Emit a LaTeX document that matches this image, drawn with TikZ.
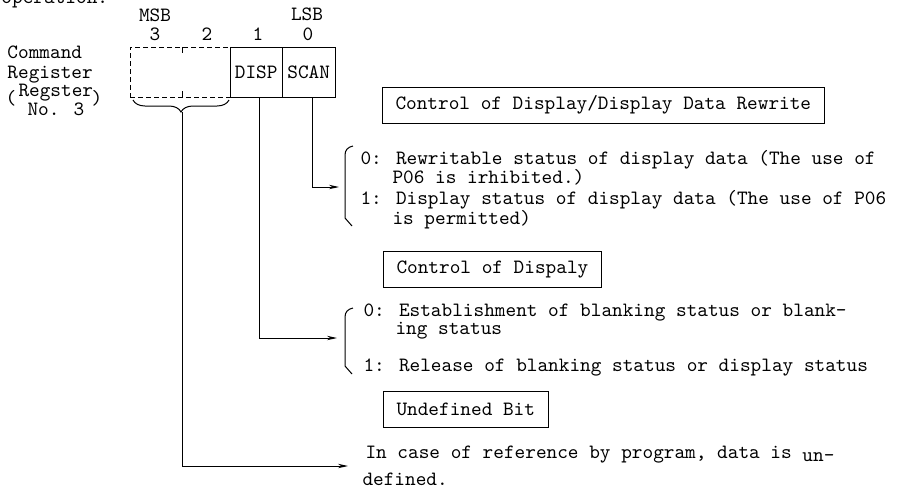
\documentclass[tikz,border=0pt]{standalone}
\usetikzlibrary{arrows.meta,decorations.pathreplacing}
\begin{document}
\begin{tikzpicture}[x=0.5pt,y=-0.5pt,line width=0.5pt]
\tikzset{
  tt/.style={font=\ttfamily\fontsize{10.15}{12}\selectfont},
  txt/.style={tt, inner sep=0pt, anchor=base west},
  ctr/.style={tt, inner sep=0pt, anchor=base},
  cell/.style={tt, draw, minimum width=26.25pt, minimum height=25pt, inner sep=0pt},
  hollowcell/.style={draw, dash pattern=on 2.5pt off 1.5pt, minimum width=50pt, minimum height=25pt, inner sep=0pt},
  titlebox/.style={tt, draw, anchor=west, minimum height=18pt, inner xsep=6.5pt, inner ysep=0pt},
  arr/.style={-{Stealth[length=5pt,width=2.2pt]}},
}
\useasboundingbox (0,0) rectangle (902,489);
\clip (0,0) rectangle (902,489);

% running text above the register
\node[txt] (op) at (1,3) {operation.};

% register label
\node[txt] (lab1) at (7,58) {Command};
\node[txt] (lab2) at (7,78) {Register};
\node[tt, inner sep=0pt] (lpar) at (11,98) {(};
\node[txt] (lab3) at (18,96) {Regster};
\node[tt, inner sep=0pt] (rpar) at (97,98) {)};
\node[txt] (lab4) at (27,115) {No. 3};

% bit numbering
\node[ctr] (msb) at (155,21) {MSB};
\node[ctr] (lsb) at (307,20) {LSB};
\node[ctr] (b3) at (155,40) {3};
\node[ctr] (b2) at (207,40) {2};
\node[ctr] (b1) at (258,40) {1};
\node[ctr] (b0) at (308,40) {0};

% register cells
\node[hollowcell] (undef) at (180,72) {};
\node[cell] (disp) at (256.25,72) {DISP};
\node[cell] (scan) at (308.75,72) {SCAN};
\draw (182,47) -- (182,53);
\draw (182,91) -- (182,97);
\draw[decorate,decoration={brace,mirror,amplitude=6pt}] (133,100) -- (229,100);
\coordinate (utip) at (182,112);

% bit 0: display / data rewrite
\node[titlebox] (t1) at (382,105) {Control of Display/Display Data Rewrite};
\node[txt] (s1) at (360,164) {0: Rewritable status of display data (The use of};
\node[txt] (s2) at (392,183) {P06 is irhibited.)};
\node[txt] (s3) at (360,204) {1: Display status of display data (The use of P06};
\node[txt] (s4) at (392,224) {is permitted)};
\draw (353,146) .. controls (348,147) and (345,150) .. (345,155) -- (345,218) -- (352,226);
\coordinate (e1) at (339,187);

% bit 1: display
\node[titlebox] (t2) at (383,269) {Control of Dispaly};
\node[txt] (d1) at (363,316) {0: Establishment of blanking status or blank-};
\node[txt] (d2) at (395,334) {ing status};
\node[txt] (d3) at (363,371) {1: Release of blanking status or display status};
\draw (353,308) .. controls (348,309) and (345,312) .. (345,317) -- (345,366) -- (352,374);
\coordinate (e2) at (337,338);

% bits 3 and 2: undefined
\node[titlebox] (t3) at (383,409) {Undefined Bit};
\node[txt] (u1) at (365,458) {In case of reference by program, data is \raisebox{-1.5pt}{un-}};
\node[txt] (u2) at (362,485) {defined.};
\coordinate (e3) at (348,466);

% connectors
\draw[arr] ([xshift=1.75pt]scan.south) |- (e1);
\draw[arr] ([xshift=1.75pt]disp.south) |- (e2);
\draw[arr] (utip) |- (e3);
\end{tikzpicture}
\end{document}
